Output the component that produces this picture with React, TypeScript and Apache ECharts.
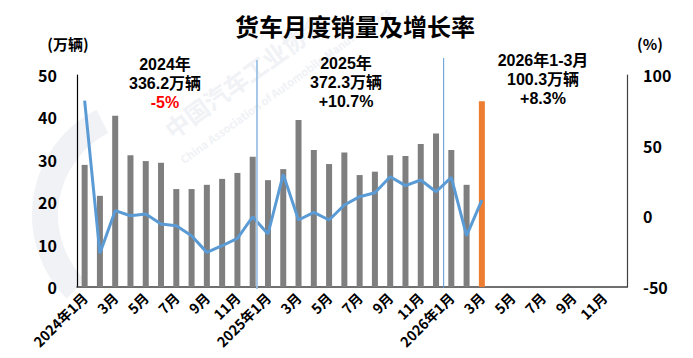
import React, { useEffect, useRef } from "react";
import * as echarts from "echarts";

const months: string[] = [
  "2024年1月", "2月", "3月", "4月", "5月", "6月", "7月", "8月", "9月", "10月", "11月", "12月",
  "2025年1月", "2月", "3月", "4月", "5月", "6月", "7月", "8月", "9月", "10月", "11月", "12月",
  "2026年1月", "2月", "3月", "4月", "5月", "6月", "7月", "8月", "9月", "10月", "11月", "12月",
];

// 月度销量（万辆）
const sales: number[] = [
  28.8, 21.5, 40.4, 31.1, 29.7, 29.3, 23.1, 23.1, 24.1, 25.5, 26.9, 30.7,
  25.2, 27.8, 39.4, 32.3, 29.0, 31.7, 26.4, 27.2, 31.1, 30.9, 33.7, 36.2,
  32.3, 24.1, 43.8,
];

// 同比增长率（%）
const growth: number[] = [
  81.8, -26.2, 4.0, 0.4, 1.6, -5.4, -6.6, -13.7, -25.5, -20.8, -15.6, -0.3,
  -12.5, 29.7, -2.6, 2.8, -2.6, 8.0, 13.9, 16.7, 28.0, 21.7, 25.7, 17.4,
  27.6, -13.7, 11.5,
];

const highlightIndex = 26;

const leftTicks = { min: 0, max: 50, interval: 10 };
const rightTicks = { min: -50, max: 100, interval: 50 };

const notes: { title: string; total: string; rate: string; red: boolean; x: number; y: number }[] = [
  { title: "2024年", total: "336.2万辆", rate: "-5%", red: true, x: 165, y: 55 },
  { title: "2025年", total: "372.3万辆", rate: "+10.7%", red: false, x: 346, y: 54 },
  { title: "2026年1-3月", total: "100.3万辆", rate: "+8.3%", red: false, x: 543, y: 51 },
];

const FONT = "'Noto Sans CJK SC', 'Noto Sans', sans-serif";
const NOTE_FONT = "'Liberation Sans', 'Noto Sans CJK SC', sans-serif";

export default function App() {
  const ref = useRef<HTMLDivElement>(null);
  useEffect(() => {
    if (!ref.current) return;
    const chart = echarts.init(ref.current, undefined, { renderer: "svg" });
    const barData = sales.map((v, i) =>
      i === highlightIndex ? { value: v, itemStyle: { color: "#ED7D31" } } : v
    );
    chart.setOption({
      animation: false,
      textStyle: { fontFamily: FONT },
      grid: { left: 77, right: 66, top: 75, bottom: 71, containLabel: false },
      xAxis: {
        type: "category",
        data: months,
        boundaryGap: true,
        axisTick: { show: false },
        axisLine: { lineStyle: { color: "#404040", width: 1.5 } },
        axisLabel: {
          interval: 1,
          rotate: 45,
          fontSize: 14,
          fontWeight: "bold",
          color: "#000",
          margin: 8,
          fontFamily: FONT,
        },
      },
      yAxis: [
        {
          type: "value",
          ...leftTicks,
          splitLine: { show: false },
          axisTick: { show: false },
          axisLine: { show: true, lineStyle: { color: "#000", width: 1.2 } },
          axisLabel: { fontSize: 16, fontWeight: "bold", color: "#000", margin: 20, fontFamily: FONT },
        },
        {
          type: "value",
          ...rightTicks,
          splitLine: { show: false },
          axisTick: { show: false },
          axisLine: { show: true, lineStyle: { color: "#404040", width: 1.2 } },
          axisLabel: { fontSize: 16, fontWeight: "bold", color: "#000", margin: 16, fontFamily: FONT },
        },
      ],
      series: [
        {
          type: "bar",
          data: barData,
          barWidth: 6,
          itemStyle: { color: "#7F7F7F" },
          z: 2,
        },
        {
          type: "line",
          yAxisIndex: 1,
          data: growth,
          symbol: "none",
          lineStyle: { color: "#5B9BD5", width: 3 },
          z: 3,
        },
      ],
    });

    const x11 = chart.convertToPixel({ xAxisIndex: 0 }, 11) as number;
    const x12 = chart.convertToPixel({ xAxisIndex: 0 }, 12) as number;
    const x23 = chart.convertToPixel({ xAxisIndex: 0 }, 23) as number;
    const x24 = chart.convertToPixel({ xAxisIndex: 0 }, 24) as number;
    const y0 = chart.convertToPixel({ yAxisIndex: 0 }, 0) as number;
    const sep1 = x11 + (x12 - x11) * 0.28;
    const sep2 = (x23 + x24) / 2;

    const wm = "#F0F2F6";
    const rot = (36 * Math.PI) / 180;
    const noteFont = `bold 16px ${NOTE_FONT}`;
    const graphics: any[] = [
      // watermark
      {
        type: "text", x: 160, y: 122, rotation: rot, z: -10, silent: true,
        style: { text: "中国汽车工业协会", fill: wm, font: `bold 24px ${FONT}` },
      },
      {
        type: "text", x: 178, y: 156, rotation: rot, z: -10, silent: true,
        style: { text: "China Association of Automobile Manufacturers", fill: wm, font: `bold 11px ${FONT}` },
      },
      {
        type: "arc", z: -10, silent: true,
        shape: { cx: 150, cy: 215, r: 105, startAngle: Math.PI * 0.75, endAngle: Math.PI * 1.35 },
        style: { stroke: wm, lineWidth: 26, fill: "none" },
      },
      // separators
      {
        type: "line", z: 5, silent: true,
        shape: { x1: sep1, y1: 60, x2: sep1, y2: y0 + 2 },
        style: { stroke: "#9DC3E6", lineWidth: 1.8 },
      },
      {
        type: "line", z: 5, silent: true,
        shape: { x1: sep2, y1: 58, x2: sep2, y2: y0 + 1 },
        style: { stroke: "#5B9BD5", lineWidth: 1 },
      },
      // title and axis names
      {
        type: "text", x: 355, y: 25, z: 10,
        style: { text: "货车月度销量及增长率", fill: "#000", font: `bold 24px ${FONT}`, align: "center", verticalAlign: "middle" },
      },
      {
        type: "text", x: 68, y: 43, z: 10,
        style: { text: "(万辆)", fill: "#000", font: `bold 15px ${FONT}`, align: "center", verticalAlign: "middle" },
      },
      {
        type: "text", x: 650, y: 43, z: 10,
        style: { text: "(%)", fill: "#000", font: `bold 15px ${FONT}`, align: "center", verticalAlign: "middle" },
      },
    ];
    notes.forEach((n) => {
      graphics.push({
        type: "text", x: n.x, y: n.y, z: 10,
        style: {
          text: `{a|${n.title}}\n{a|${n.total}}\n{${n.red ? "r" : "a"}|${n.rate}}`,
          align: "center",
          verticalAlign: "top",
          rich: {
            a: { fill: "#000", font: noteFont, lineHeight: 19, align: "center" },
            r: { fill: "#FF0000", font: noteFont, lineHeight: 19, align: "center" },
          },
        },
      });
    });
    chart.setOption({ graphic: graphics });

    return () => chart.dispose();
  }, []);
  return <div ref={ref} style={{ width: 693, height: 358, position: "absolute", left: 0, top: 0 }} />;
}
